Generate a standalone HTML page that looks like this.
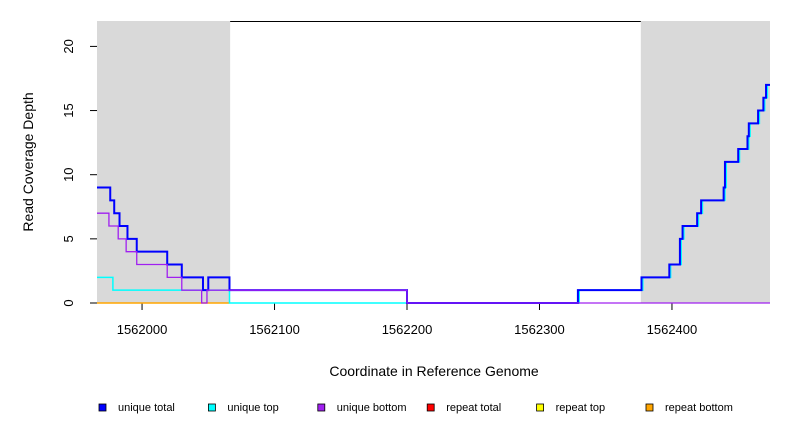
<!DOCTYPE html>
<html><head><meta charset="utf-8"><style>
html,body{margin:0;padding:0;background:#fff}
svg{display:block;font-family:"Liberation Sans",sans-serif}
</style></head><body>
<svg id="chart" width="792" height="432" viewBox="0 0 792 432">
  <g id="bg"></g>
  <g id="axes"></g>
  <g id="series"></g>
  <text x="33" y="162" transform="rotate(-90 33 162)" text-anchor="middle" font-size="14">Read Coverage Depth</text>
  <text x="434" y="376" text-anchor="middle" font-size="14">Coordinate in Reference Genome</text>
  <g id="legend"></g>
</svg>
<script>
const xTicks = [1562000, 1562100, 1562200, 1562300, 1562400];
const yTicks = [0, 5, 10, 15, 20];
const shadedRegions = [[1561966, 1562066.5], [1562376.5, 1562474]];
const totalStarts = [1561966,1561976,1561979,1561983,1561989,1561996,1562019,1562030,1562046,1562050,1562066,1562200,1562329,1562377,1562398,1562406,1562408,1562419,1562422,1562439,1562440,1562450,1562457,1562458,1562465,1562469,1562471];
const totalValues = [9,8,7,6,5,4,3,2,1,2,1,0,1,2,3,5,6,7,8,9,11,12,13,14,15,16,17];
const topStarts = [1561966,1561978,1562066,1562330,1562378,1562399,1562407,1562409,1562420,1562423,1562440,1562441,1562451,1562458,1562459,1562466,1562470,1562472];
const topValues = [2,1,0,1,2,3,5,6,7,8,9,11,12,13,14,15,16,17];
const bottomStarts = [1561966,1561975,1561982,1561988,1561996,1562019,1562030,1562045,1562049,1562200];
const bottomValues = [7,6,5,4,3,2,1,0,1,0];
const repeatStarts = [1561966];
const repeatValues = [0];
const repeatEnd = 1562066;
const xEnd = 1562474;
const legendLabels = ["unique total","unique top","unique bottom","repeat total","repeat top","repeat bottom"];
const legendColors = ["#0000ff","#00ffff","#a020f0","#ff0000","#ffff00","#ffa500"];

const NS = "http://www.w3.org/2000/svg";
const X0 = 97, X1 = 770, Y0 = 303;
const xMin = 1561966, xMax = 1562474;
const xs = v => X0 + (v - xMin) * (X1 - X0) / (xMax - xMin);
const ys = v => Y0 - v * 12.83;
function mk(tag, attrs, parent) {
  const e = document.createElementNS(NS, tag);
  for (const k in attrs) e.setAttribute(k, attrs[k]);
  parent.appendChild(e);
  return e;
}
const bg = document.getElementById('bg');
shadedRegions.forEach(r => {
  const e = mk('rect', {x: xs(r[0]), y: 21, width: xs(r[1]) - xs(r[0]), height: Y0 - 21, fill: '#d9d9d9'}, bg);
  
  
});
const topLine = mk('line', {x1: xs(shadedRegions[0][1]), x2: xs(shadedRegions[1][0]), y1: 21.5, y2: 21.5, stroke: '#000', 'stroke-width': 1}, bg);



const axes = document.getElementById('axes');
yTicks.forEach(t => {
  const l = mk('line', {x1: 90, x2: 97, y1: ys(t), y2: ys(t), stroke: '#000'}, axes);
  
  
  const tx = mk('text', {x: 73, y: ys(t), 'font-size': 13, 'text-anchor': 'middle', transform: `rotate(-90 73 ${ys(t)})`}, axes);
  tx.textContent = t;
  
  
});
xTicks.forEach(t => {
  const l = mk('line', {x1: xs(t), x2: xs(t), y1: Y0, y2: 310, stroke: '#000'}, axes);
  
  
  const tx = mk('text', {x: xs(t), y: 334, 'font-size': 13, 'text-anchor': 'middle'}, axes);
  tx.textContent = t;
  
  
});

function stepPath(starts, vals, end) {
  let d = '';
  for (let i = 0; i < starts.length; i++) {
    const x1 = xs(starts[i]), x2 = xs(i + 1 < starts.length ? starts[i + 1] : end), y = ys(vals[i]);
    d += (i === 0 ? 'M' : 'L') + x1 + ' ' + y + ' L' + x2 + ' ' + y + ' ';
  }
  return d;
}
const series = document.getElementById('series');
const pR = mk('path', {d: stepPath(repeatStarts, repeatValues, repeatEnd), fill: 'none', stroke: '#ffa500', 'stroke-width': 1.5}, series);


const pT = mk('path', {d: stepPath(topStarts, topValues, xEnd), fill: 'none', stroke: '#00ffff', 'stroke-width': 1.5}, series);


const pA = mk('path', {d: stepPath(totalStarts, totalValues, xEnd), fill: 'none', stroke: '#0000ff', 'stroke-width': 2}, series);


const pB = mk('path', {d: stepPath(bottomStarts, bottomValues, xEnd), fill: 'none', stroke: '#a020f0', 'stroke-width': 1.3}, series);



const legend = document.getElementById('legend');
legendLabels.forEach((lab, i) => {
  const x = 99 + i * 109.4;
  const r = mk('rect', {x: x, y: 404, width: 7, height: 7, fill: legendColors[i], stroke: '#000', 'stroke-width': 0.8}, legend);
  
  
  const t = mk('text', {x: x + 19, y: 411, 'font-size': 11}, legend);
  t.textContent = lab;
  
  
});
</script>
</body></html>
